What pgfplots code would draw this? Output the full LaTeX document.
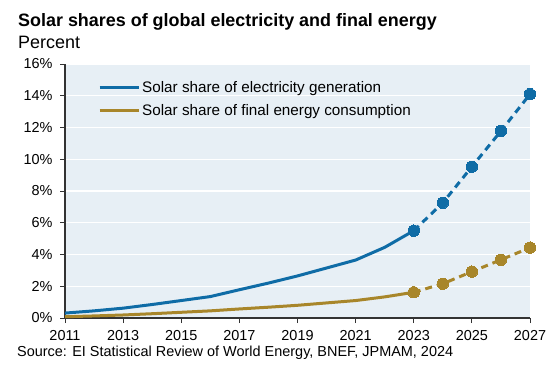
\documentclass[border=0pt]{standalone}
\usepackage{fontspec}
\setmainfont{Liberation Sans}
\usepackage{pgfplots}
\pgfplotsset{compat=1.18}
\definecolor{jblue}{HTML}{0F6CA6}
\definecolor{jgold}{HTML}{A8862A}
\definecolor{bgc}{HTML}{E7EFF5}
\definecolor{axc}{HTML}{333333}
\begin{document}
\begin{tikzpicture}[x=1bp,y=1bp]
\path[use as bounding box] (0,0) rectangle (550,371);
\node[anchor=base west,inner sep=0pt,font=\bfseries\fontsize{18}{20}\selectfont] at (18,344.3) {Solar shares of global electricity and final energy};
\node[anchor=base west,inner sep=0pt,font=\fontsize{18}{20}\selectfont] at (18,322.7) {Percent};
\node[anchor=base west,inner sep=0pt,font=\fontsize{14.5}{16}\selectfont] at (17,14.3) {Source: EI Statistical Review of World Energy, BNEF, JPMAM, 2024};
\begin{axis}[
  at={(65bp,53bp)}, anchor=south west, scale only axis,
  width=465bp, height=254bp,
  xmin=2011, xmax=2027, ymin=0, ymax=16,
  xtick={2011,2013,...,2027}, ytick={0,2,...,16},
  axis x line*=bottom, axis y line*=left,
  axis line style={axc, line width=1.3pt},
  axis background/.style={fill=bgc},
  ymajorgrids, grid style={white, line width=1.2pt},
  tick style={axc, line width=1pt},
  tick align=outside, major tick length=5bp,
  /pgf/number format/assume math mode=true,
  x tick label style={/pgf/number format/1000 sep={}, yshift=-4bp},
  yticklabel={\pgfmathprintnumber{\tick}\%},
  y tick label style={xshift=-4bp},
  tick label style={font=\fontsize{14.5}{16}\selectfont, text=black},
  legend style={at={(0.071,0.94)}, anchor=north west, draw=none, fill=none,
    font=\fontsize{15.3}{17}\selectfont, row sep=6bp, inner sep=0pt},
  legend cell align=left,
  legend image code/.code={\draw[#1, line width=3bp] (0bp,0bp) -- (39bp,0bp);},
]
\addplot[jblue, line width=3bp, no marks] coordinates {
(2011,0.31) (2012,0.45) (2013,0.62) (2014,0.85) (2015,1.1) (2016,1.35) (2017,1.78)
(2018,2.2) (2019,2.65) (2020,3.15) (2021,3.65) (2022,4.45) (2023,5.5)};
\addlegendentry{Solar share of electricity generation}
\addplot[jgold, line width=3bp, no marks] coordinates {
(2011,0.08) (2012,0.13) (2013,0.19) (2014,0.27) (2015,0.36) (2016,0.45) (2017,0.57)
(2018,0.68) (2019,0.8) (2020,0.95) (2021,1.1) (2022,1.33) (2023,1.62)};
\addlegendentry{Solar share of final energy consumption}
\addplot[jblue, line width=3bp, dash pattern=on 7bp off 5bp, mark=*, mark size=5.7bp, mark options={solid, fill=jblue, draw=jblue, line width=0pt}, forget plot] coordinates {
(2023,5.5) (2024,7.26) (2025,9.53) (2026,11.78) (2027,14.1)};
\addplot[jgold, line width=3bp, dash pattern=on 7bp off 5bp, mark=*, mark size=5.7bp, mark options={solid, fill=jgold, draw=jgold, line width=0pt}, forget plot] coordinates {
(2023,1.62) (2024,2.16) (2025,2.92) (2026,3.67) (2027,4.43)};
\end{axis}
\end{tikzpicture}
\end{document}
